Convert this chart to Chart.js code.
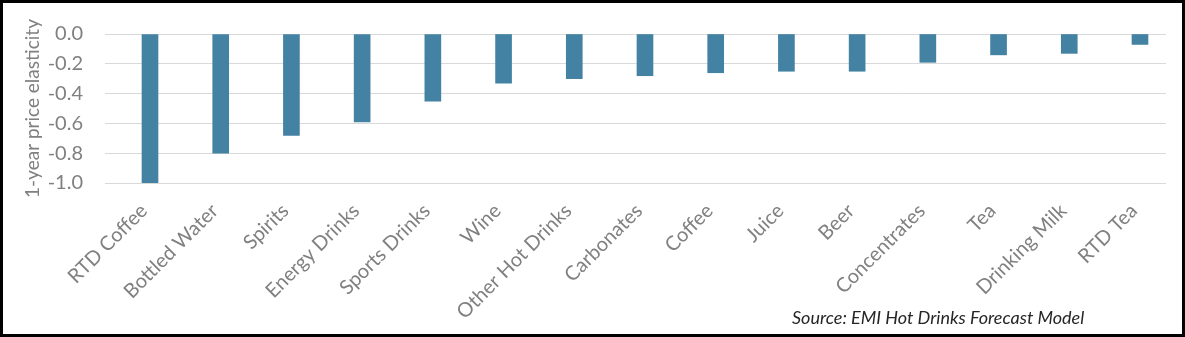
<!DOCTYPE html>
<html>
<head>
<meta charset="utf-8">
<script src="https://cdn.jsdelivr.net/npm/chart.js@4.4.1/dist/chart.umd.min.js"></script>
<style>
  html, body { margin: 0; padding: 0; background: #fff; }
  #wrap { position: relative; width: 1185px; height: 337px; }
  #frame { position: absolute; left: 0; top: 0; width: 1185px; height: 337px;
           box-sizing: border-box; border: 3px solid #000; pointer-events: none; }
  #source { position: absolute; left: 792px; top: 306px; font-family: Lato, sans-serif;
            font-style: italic; font-size: 18px; color: #262626; white-space: nowrap; }
</style>
</head>
<body>
<div id="wrap">
  <canvas id="myChart" width="1185" height="337"></canvas>
  <div id="source">Source: EMI Hot Drinks Forecast Model</div>
  <div id="frame"></div>
</div>
<script>
const drinks = [
  "RTD Coffee", "Bottled Water", "Spirits", "Energy Drinks", "Sports Drinks",
  "Wine", "Other Hot Drinks", "Carbonates", "Coffee", "Juice",
  "Beer", "Concentrates", "Tea", "Drinking Milk", "RTD Tea",
];
const elasticity = [-1.0, -0.8, -0.68, -0.59, -0.45, -0.33, -0.3, -0.28, -0.26, -0.25, -0.25, -0.19, -0.14, -0.13, -0.07];
const yTicks = [0.0, -0.2, -0.4, -0.6, -0.8, -1.0];

const grey = "#808080";

new Chart("myChart", {
  type: "bar",
  data: {
    datasets: [
      {
        data: drinks.map((d, i) => ({ x: i, y: elasticity[i] })),
        backgroundColor: "#4382a2",
        barThickness: 16,
      },
    ],
  },
  options: {
    responsive: false,
    animation: false,
    layout: { padding: { left: 0, right: 19, top: 24, bottom: 0 } },
    plugins: { legend: { display: false }, tooltip: { enabled: false } },
    scales: {
      x: {
        type: "linear",
        offset: false,
        min: -0.6364,
        max: 14.368,
        grid: { display: false, offset: false },
        border: { display: false },
        afterBuildTicks: (scale) => {
          scale.ticks = drinks.map((d, i) => ({ value: i }));
        },
        afterFit: (scale) => { scale.height = 154; },
        ticks: {
          autoSkip: false,
          maxRotation: 45,
          minRotation: 45,
          padding: 8,
          labelOffset: -6,
          color: grey,
          font: { family: "Lato", size: 20 },
          callback: (v) => drinks[v],
        },
      },
      y: {
        min: -1.0,
        max: 0.0,
        afterBuildTicks: (scale) => {
          scale.ticks = yTicks.map((v) => ({ value: v }));
        },
        afterFit: (scale) => { scale.width = 105; },
        grid: { color: "#d9d9d9", drawTicks: false },
        border: { display: false },
        ticks: {
          padding: 22,
          color: grey,
          font: { family: "Lato", size: 20 },
          callback: (v) => v.toFixed(1),
        },
        title: {
          display: true,
          text: "1-year price elasticity",
          color: grey,
          font: { family: "Lato", size: 19 },
          padding: { top: 21, bottom: 0 },
        },
      },
    },
  },
});
</script>
</body>
</html>
